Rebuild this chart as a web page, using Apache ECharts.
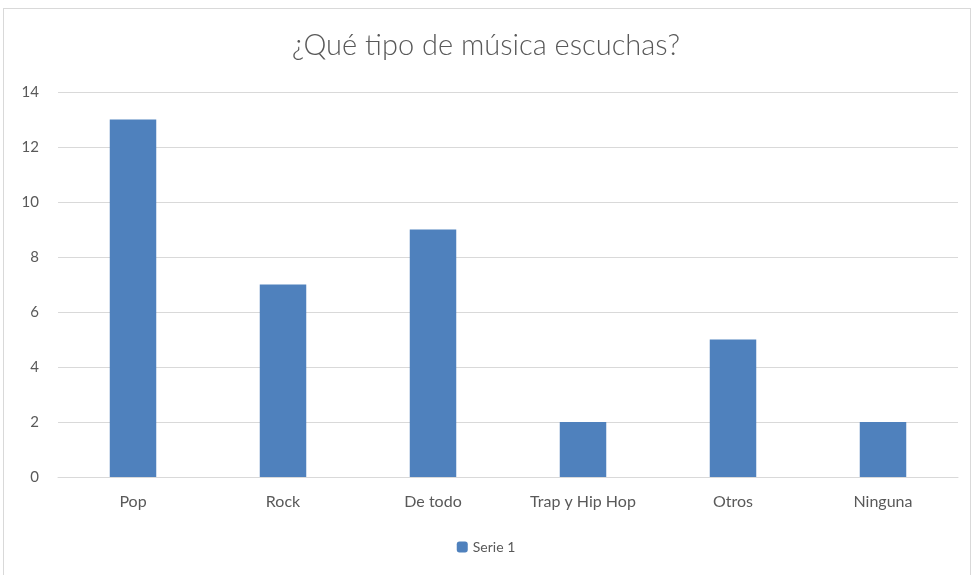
<!DOCTYPE html>
<html><head><meta charset="utf-8">
<script src="https://cdn.jsdelivr.net/npm/echarts@6/dist/echarts.min.js"></script>
<style>
html,body{margin:0;padding:0;background:#fff;}
#frame{position:absolute;left:3px;top:8px;width:968px;height:570px;border:1px solid #d9d9d9;box-sizing:border-box;}
#c{position:absolute;left:0;top:0;width:972px;height:575px;}
</style></head>
<body>
<div id="frame"></div>
<div id="c"></div>
<script>
const categories = ['Pop', 'Rock', 'De todo', 'Trap y Hip Hop', 'Otros', 'Ninguna'];
const values = [13, 7, 9, 2, 5, 2];
const seriesName = 'Serie 1';
const titleText = '¿Qué tipo de música escuchas?';

const chart = echarts.init(document.getElementById('c'), null, {renderer: 'canvas'});
chart.setOption({
  animation: false,
  title: {
    text: titleText, left: 'center', top: 26,
    textStyle: {fontFamily: 'Lato', fontWeight: 300, fontSize: 29, color: '#595959'}
  },
  legend: {
    data: [seriesName], bottom: 16, left: 'center',
    itemWidth: 11, itemHeight: 11, itemGap: 5,
    textStyle: {fontFamily: 'Lato', fontSize: 14, color: '#595959'}
  },
  grid: {left: 58, right: 14, top: 92, bottom: 98, containLabel: false},
  xAxis: {
    type: 'category', data: categories,
    axisLine: {lineStyle: {color: '#d9d9d9'}},
    axisTick: {show: false},
    axisLabel: {fontFamily: 'Lato', fontSize: 16, color: '#595959', margin: 17}
  },
  yAxis: {
    type: 'value', min: 0, max: 14, interval: 2,
    axisLine: {show: false}, axisTick: {show: false},
    splitLine: {lineStyle: {color: '#d9d9d9'}},
    axisLabel: {fontFamily: 'Lato', fontSize: 15, color: '#595959', margin: 19, align: 'right'}
  },
  series: [{
    name: seriesName, type: 'bar', data: values, barWidth: '31%',
    itemStyle: {color: '#4f81bd'}
  }]
});
</script>
</body></html>
